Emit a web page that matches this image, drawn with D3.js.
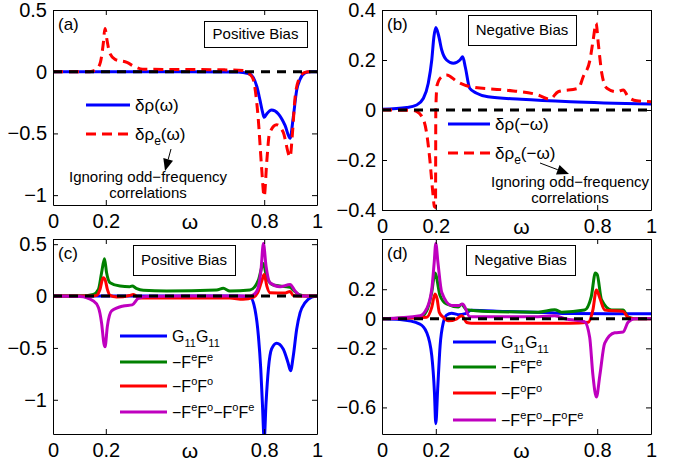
<!DOCTYPE html>
<html>
<head>
<meta charset="utf-8">
<script src="https://cdn.jsdelivr.net/npm/d3@7"></script>
<style>
  body { margin: 0; background: #fff; }
  svg { display: block; font-family: "Liberation Sans", Arial, sans-serif; }
  .axis path, .axis line { stroke: #000; }
  .axis text { font-size: 20px; fill: #000; font-family: "Liberation Sans", Arial, sans-serif; }
</style>
</head>
<body>
<svg id="fig" width="678" height="464"></svg>
<script>
// x ticks shared by all four panels
const xTicks = [0, 0.2, 0.8, 1];

// panel (a) positive bias, [omega, value]
const aRho = [[0,0],[0.5,0],[0.7,-0.002],[0.74,-0.015],[0.758,-0.045],[0.772,-0.12],[0.784,-0.23],[0.794,-0.33],[0.8,-0.37],[0.81,-0.34],[0.828,-0.31],[0.853,-0.34],[0.879,-0.435],[0.898,-0.54],[0.91,-0.37],[0.923,-0.15],[0.936,-0.06],[0.955,-0.01],[0.975,0],[1,0]];
const aRhoE = [[0,0],[0.14,0],[0.165,0.02],[0.18,0.08],[0.19,0.22],[0.197,0.35],[0.205,0.25],[0.215,0.15],[0.235,0.1],[0.28,0.075],[0.31,0.04],[0.34,0.02],[0.5,0.018],[0.65,0.015],[0.72,0.01],[0.745,-0.02],[0.758,-0.06],[0.777,-0.37],[0.79,-0.77],[0.8,-1.01],[0.81,-0.72],[0.82,-0.5],[0.847,-0.43],[0.872,-0.49],[0.898,-0.69],[0.907,-0.5],[0.916,-0.23],[0.93,-0.07],[0.95,-0.01],[0.97,0],[1,0]];

// panel (b) negative bias
const bRho = [[0,0.003],[0.092,0.01],[0.129,0.02],[0.154,0.047],[0.172,0.107],[0.185,0.2],[0.193,0.293],[0.2,0.33],[0.21,0.3],[0.222,0.24],[0.24,0.2],[0.265,0.187],[0.29,0.2],[0.3,0.213],[0.31,0.17],[0.326,0.087],[0.35,0.068],[0.394,0.053],[0.517,0.043],[0.7,0.033],[1,0.024]];
const bRhoE = [[0,0],[0.117,-0.002],[0.147,-0.024],[0.166,-0.093],[0.178,-0.2],[0.188,-0.32],[0.195,-0.387],[0.199,-0.39],[0.2,0],[0.205,0.1],[0.222,0.133],[0.24,0.14],[0.28,0.113],[0.33,0.093],[0.456,0.08],[0.58,0.06],[0.624,0.043],[0.655,0.073],[0.73,0.087],[0.748,0.133],[0.773,0.2],[0.785,0.28],[0.796,0.347],[0.804,0.267],[0.817,0.147],[0.836,0.087],[0.873,0.073],[0.897,0.08],[0.915,0.053],[0.947,0.037],[1,0.033]];

// panel (c) positive bias, decomposition
const cGG = [[0,0],[0.7,0],[0.746,-0.006],[0.765,-0.128],[0.778,-0.385],[0.787,-0.705],[0.793,-1.026],[0.8,-1.38],[0.807,-1.03],[0.816,-0.7],[0.828,-0.51],[0.847,-0.455],[0.872,-0.51],[0.89,-0.64],[0.9,-0.72],[0.91,-0.58],[0.923,-0.32],[0.936,-0.16],[0.955,-0.064],[0.98,-0.01],[1,0]];
const cFeFe = [[0,0],[0.102,0],[0.153,0.016],[0.172,0.064],[0.184,0.224],[0.195,0.36],[0.203,0.224],[0.216,0.128],[0.254,0.096],[0.29,0.09],[0.3,0.096],[0.315,0.075],[0.342,0.055],[0.43,0.048],[0.62,0.058],[0.645,0.074],[0.67,0.048],[0.746,0.058],[0.778,0.154],[0.797,0.314],[0.809,0.186],[0.834,0.106],[0.898,0.085],[0.91,0.058],[0.936,0.01],[0.96,0],[1,0]];
const cFoFo = [[0,0],[0.15,0],[0.165,0.006],[0.178,0.064],[0.19,0.176],[0.197,0.16],[0.206,0.064],[0.216,0.006],[0.241,-0.01],[0.29,0.005],[0.304,0.015],[0.33,-0.02],[0.5,-0.02],[0.67,-0.02],[0.72,-0.03],[0.76,-0.01],[0.775,0.03],[0.79,0.14],[0.8,0.208],[0.81,0.096],[0.822,0.032],[0.88,0.03],[0.898,0.045],[0.91,0.006],[0.94,0],[1,0]];
const cFeFo = [[0,0],[0.102,-0.005],[0.153,-0.048],[0.172,-0.11],[0.184,-0.26],[0.193,-0.46],[0.197,-0.49],[0.206,-0.29],[0.222,-0.144],[0.266,-0.096],[0.3,-0.085],[0.323,-0.022],[0.354,-0.005],[0.5,0],[0.746,0],[0.772,0.048],[0.788,0.256],[0.797,0.507],[0.807,0.288],[0.822,0.128],[0.86,0.09],[0.898,0.112],[0.917,0.048],[0.936,0.006],[0.96,0],[1,0]];

// panel (d) negative bias, decomposition
const dGG = [[0,0],[0.067,-0.005],[0.141,-0.036],[0.166,-0.093],[0.185,-0.25],[0.195,-0.5],[0.2,-0.71],[0.207,-0.475],[0.216,-0.183],[0.228,-0.025],[0.24,0.025],[0.259,0.038],[0.284,0.028],[0.31,0.035],[0.332,0.058],[0.456,0.05],[0.63,0.04],[0.704,0.035],[1,0.034]];
const dFeFe = [[0,0],[0.141,0.01],[0.166,0.054],[0.185,0.18],[0.197,0.31],[0.2,0.3],[0.216,0.156],[0.24,0.1],[0.284,0.08],[0.296,0.098],[0.314,0.061],[0.394,0.05],[0.58,0.045],[0.642,0.061],[0.667,0.045],[0.753,0.059],[0.778,0.15],[0.793,0.31],[0.8,0.3],[0.816,0.129],[0.853,0.06],[0.896,0.06],[0.915,0.011],[0.94,0],[1,0]];
const dFoFo = [[0,0],[0.166,0.01],[0.185,0.077],[0.197,0.168],[0.205,0.133],[0.213,0.043],[0.228,0.01],[0.246,-0.014],[0.278,0],[0.296,0.02],[0.315,-0.025],[0.332,-0.03],[0.5,-0.03],[0.7,-0.03],[0.767,-0.023],[0.784,0.06],[0.797,0.195],[0.81,0.14],[0.828,0.06],[0.896,0.05],[0.915,0.01],[0.94,0],[1,0]];
const dFeFo = [[0,0],[0.141,0.02],[0.166,0.068],[0.185,0.2],[0.194,0.38],[0.2,0.51],[0.208,0.38],[0.222,0.18],[0.259,0.09],[0.285,0.09],[0.3,0.1],[0.326,0.014],[0.39,0.014],[0.58,0.014],[0.642,0.02],[0.68,0],[0.753,-0.02],[0.772,-0.125],[0.784,-0.38],[0.797,-0.53],[0.81,-0.38],[0.828,-0.165],[0.865,-0.095],[0.896,-0.09],[0.915,-0.023],[0.94,0],[1,0]];

// legend labels: each is a list of [text, shift] pieces (shift: 0 normal, 1 sub, -1 sup)
const labRho = [['δρ(ω)',0]];
const labRhoE = [['δρ',0],['e',1],['(ω)',0]];
const labRhoNeg = [['δρ(−ω)',0]];
const labRhoENeg = [['δρ',0],['e',1],['(−ω)',0]];
const labGG = [['G',0],['11',1],['G',0],['11',1]];
const labFeFe = [['−F',0],['e',-1],['F',0],['e',-1]];
const labFoFo = [['−F',0],['o',-1],['F',0],['o',-1]];
const labFeFo = [['−F',0],['e',-1],['F',0],['o',-1],['−F',0],['o',-1],['F',0],['e',-1]];

const BLUE = '#0000ff', RED = '#ff0000', GREEN = '#008000', MAGENTA = '#bf00bf';

const panels = [
  { tag: '(a)', l: 53, t: 10, w: 264, h: 195, yDomain: [-1.08, 0.5], yTicks: [-1, -0.5, 0, 0.5],
    series: [{ d: aRho, c: BLUE, lab: labRho }, { d: aRhoE, c: RED, dash: '10,6', lab: labRhoE }],
    title: 'Positive Bias', tbox: [204, 21, 103, 26],
    leg: { x0: 86, x1: 130, ys: [105, 134], fs: 17 },
    note: { x: 148, y: 182, from: [171, 149], to: [165, 171] } },
  { tag: '(b)', l: 382, t: 10, w: 269, h: 200, yDomain: [-0.4, 0.4], yTicks: [-0.4, -0.2, 0, 0.2, 0.4],
    series: [{ d: bRho, c: BLUE, lab: labRhoNeg }, { d: bRhoE, c: RED, dash: '10,6', lab: labRhoENeg }],
    title: 'Negative Bias', tbox: [468, 15, 108, 30],
    leg: { x0: 448, x1: 490, ys: [124, 153], fs: 17 },
    note: { x: 570, y: 187, from: [540, 163], to: [569, 174] } },
  { tag: '(c)', l: 53, t: 239, w: 264, h: 195, yDomain: [-1.33, 0.55], yTicks: [-1, -0.5, 0, 0.5],
    series: [{ d: cGG, c: BLUE, lab: labGG }, { d: cFeFe, c: GREEN, lab: labFeFe },
             { d: cFoFo, c: RED, lab: labFoFo }, { d: cFeFo, c: MAGENTA, lab: labFeFo }],
    title: 'Positive Bias', tbox: [133, 245, 102, 30],
    leg: { x0: 120, x1: 167, ys: [336, 362, 386, 412], fs: 16 } },
  { tag: '(d)', l: 382, t: 239, w: 269, h: 195, yDomain: [-0.78, 0.54], yTicks: [-0.6, -0.2, 0, 0.2],
    series: [{ d: dGG, c: BLUE, lab: labGG }, { d: dFeFe, c: GREEN, lab: labFeFe },
             { d: dFoFo, c: RED, lab: labFoFo }, { d: dFeFo, c: MAGENTA, lab: labFeFo }],
    title: 'Negative Bias', tbox: [466, 245, 109, 30],
    leg: { x0: 453, x1: 496, ys: [342, 367, 393, 420], fs: 16 } }
];

const svg = d3.select('#fig');
svg.append('rect').attr('width', 678).attr('height', 464).attr('fill', '#fff');

function richText(sel, pieces, fs) {
  let shift = 0;
  pieces.forEach(([txt, s]) => {
    const target = s === 1 ? 5 : s === -1 ? -7 : 0;
    sel.append('tspan')
      .attr('dy', target - shift)
      .attr('font-size', s === 0 ? fs : Math.round(fs * 0.7))
      .text(txt);
    shift = target;
  });
}

panels.forEach((p, i) => {
  const g = svg.append('g').attr('transform', `translate(${p.l},${p.t})`);
  const x = d3.scaleLinear().domain([0, 1]).range([0, p.w]);
  const y = d3.scaleLinear().domain(p.yDomain).range([p.h, 0]);

  g.append('clipPath').attr('id', 'clip' + i)
    .append('rect').attr('width', p.w).attr('height', p.h);
  const plot = g.append('g').attr('clip-path', `url(#clip${i})`);

  const line = d3.line().x(d => x(d[0])).y(d => y(d[1])).curve(d3.curveMonotoneX);
  p.series.forEach(s => {
    plot.append('path')
      .attr('d', line(s.d))
      .attr('fill', 'none')
      .attr('stroke', s.c)
      .attr('stroke-width', 3)
      .attr('stroke-dasharray', s.dash || null);
  });

  // zero reference line
  plot.append('line')
    .attr('x1', x(0)).attr('x2', x(1))
    .attr('y1', y(0)).attr('y2', y(0))
    .attr('stroke', '#000').attr('stroke-width', 3)
    .attr('stroke-dasharray', '9,7');

  // axes: ticks point inward, box on all four sides
  g.append('g').attr('class', 'axis')
    .call(d3.axisLeft(y).tickValues(p.yTicks).tickFormat(d3.format('~g'))
      .tickSizeInner(-5).tickSizeOuter(0).tickPadding(6));
  g.append('g').attr('class', 'axis').attr('transform', `translate(${p.w},0)`)
    .call(d3.axisRight(y).tickValues(p.yTicks).tickFormat('')
      .tickSizeInner(-5).tickSizeOuter(0));
  g.append('g').attr('class', 'axis').attr('transform', `translate(0,${p.h})`)
    .call(d3.axisBottom(x).tickValues(xTicks).tickFormat(d3.format('~g'))
      .tickSizeInner(-5).tickSizeOuter(0).tickPadding(9));
  g.append('g').attr('class', 'axis')
    .call(d3.axisTop(x).tickValues(xTicks).tickFormat('')
      .tickSizeInner(-5).tickSizeOuter(0));

  g.append('text')
    .attr('x', x(0.5) + 5).attr('y', p.h + 9)
    .attr('dy', '0.71em').attr('text-anchor', 'middle')
    .attr('font-size', 21).text('ω');

  // panel tag
  svg.append('text').attr('x', p.l + 5).attr('y', p.t + 20)
    .attr('font-size', 17).text(p.tag);

  // bias box
  const [bx, by, bw, bh] = p.tbox;
  svg.append('rect').attr('x', bx + 0.5).attr('y', by + 0.5)
    .attr('width', bw).attr('height', bh)
    .attr('fill', '#fff').attr('stroke', '#000').attr('stroke-width', 1);
  svg.append('text').attr('x', bx + bw / 2).attr('y', by + bh / 2 + 5)
    .attr('text-anchor', 'middle').attr('font-size', 15).text(p.title);

  // legend
  p.series.forEach((s, k) => {
    const ly = p.leg.ys[k];
    svg.append('line')
      .attr('x1', p.leg.x0).attr('x2', p.leg.x1).attr('y1', ly).attr('y2', ly)
      .attr('stroke', s.c).attr('stroke-width', 3)
      .attr('stroke-dasharray', s.dash || null);
    const t = svg.append('text').attr('x', p.leg.x1 + 5).attr('y', ly + 6)
      .attr('font-size', p.leg.fs);
    richText(t, s.lab, p.leg.fs);
  });

  // annotation with arrow
  if (p.note) {
    const n = p.note;
    svg.append('text').attr('x', n.x).attr('y', n.y).attr('text-anchor', 'middle')
      .attr('font-size', 15).text('Ignoring odd−frequency');
    svg.append('text').attr('x', n.x).attr('y', n.y + 16).attr('text-anchor', 'middle')
      .attr('font-size', 15).text('correlations');
    const [x0, y0] = n.from, [x1, y1] = n.to;
    const ang = Math.atan2(y1 - y0, x1 - x0);
    const L = 12, W = 5;
    const bxh = x1 - L * Math.cos(ang), byh = y1 - L * Math.sin(ang);
    svg.append('line').attr('x1', x0).attr('y1', y0).attr('x2', bxh).attr('y2', byh)
      .attr('stroke', '#000').attr('stroke-width', 1);
    svg.append('path')
      .attr('d', `M${x1},${y1}L${bxh - W * Math.sin(ang)},${byh + W * Math.cos(ang)}L${bxh + W * Math.sin(ang)},${byh - W * Math.cos(ang)}Z`)
      .attr('fill', '#000');
  }
});
</script>
</body>
</html>
